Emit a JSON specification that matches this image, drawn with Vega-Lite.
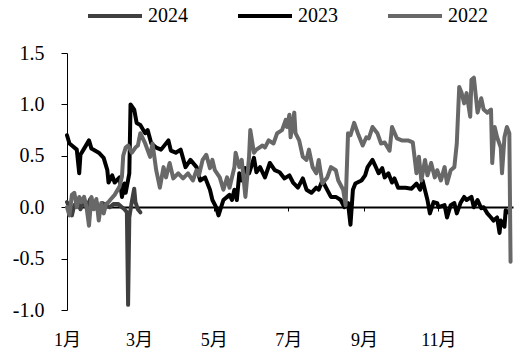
{
  "$schema": "https://vega.github.io/schema/vega-lite/v6.json",
  "width": 446,
  "height": 257,
  "autosize": {"type": "none"},
  "padding": {"left": 67, "top": 53, "right": 11, "bottom": 50},
  "background": "white",
  "config": {
    "view": {"stroke": null},
    "font": "Liberation Serif"
  },
  "datasets": {
    "s2024": [
      {"day":0,"value":0.05},{"day":2,"value":0.0},{"day":4,"value":-0.08},{"day":6,"value":0.02},{"day":9,"value":0.05},{"day":11,"value":-0.02},{"day":14,"value":0.06},{"day":16,"value":0.0},{"day":19,"value":0.08},{"day":21,"value":0.02},{"day":24,"value":0.05},{"day":26,"value":-0.03},{"day":29,"value":0.04},{"day":32,"value":0.02},{"day":35,"value":0.0},{"day":38,"value":0.03},{"day":42,"value":0.03},{"day":45,"value":0.0},{"day":47,"value":-0.02},{"day":49,"value":-0.05},{"day":50,"value":-0.95},{"day":51,"value":-0.1},{"day":53,"value":0.05},{"day":55,"value":0.18},{"day":56,"value":0.05},{"day":58,"value":-0.02},{"day":60,"value":-0.05}
    ],
    "s2023": [
      {"day":0,"value":0.70},{"day":2,"value":0.62},{"day":4,"value":0.60},{"day":8,"value":0.56},{"day":10,"value":0.33},{"day":11,"value":0.51},{"day":14,"value":0.57},{"day":18,"value":0.65},{"day":20,"value":0.57},{"day":26,"value":0.53},{"day":30,"value":0.48},{"day":33,"value":0.36},{"day":34,"value":0.24},{"day":37,"value":0.31},{"day":39,"value":0.24},{"day":43,"value":0.29},{"day":45,"value":0.10},{"day":47,"value":0.23},{"day":48,"value":0.14},{"day":51,"value":0.33},{"day":52,"value":1.0},{"day":55,"value":0.95},{"day":57,"value":0.82},{"day":60,"value":0.80},{"day":64,"value":0.72},{"day":66,"value":0.75},{"day":69,"value":0.62},{"day":73,"value":0.58},{"day":77,"value":0.56},{"day":83,"value":0.65},{"day":85,"value":0.55},{"day":89,"value":0.53},{"day":93,"value":0.56},{"day":97,"value":0.39},{"day":101,"value":0.46},{"day":106,"value":0.39},{"day":109,"value":0.26},{"day":113,"value":0.29},{"day":117,"value":0.17},{"day":119,"value":0.07},{"day":122,"value":0.0},{"day":124,"value":-0.08},{"day":128,"value":0.07},{"day":133,"value":0.12},{"day":135,"value":0.07},{"day":137,"value":0.17},{"day":139,"value":0.07},{"day":141,"value":0.33},{"day":143,"value":0.26},{"day":146,"value":0.38},{"day":149,"value":0.33},{"day":153,"value":0.48},{"day":155,"value":0.34},{"day":158,"value":0.39},{"day":162,"value":0.29},{"day":166,"value":0.43},{"day":170,"value":0.36},{"day":174,"value":0.34},{"day":178,"value":0.28},{"day":182,"value":0.31},{"day":185,"value":0.24},{"day":189,"value":0.19},{"day":193,"value":0.28},{"day":196,"value":0.17},{"day":200,"value":0.14},{"day":204,"value":0.19},{"day":206,"value":0.17},{"day":209,"value":0.26},{"day":212,"value":0.19},{"day":216,"value":0.10},{"day":220,"value":0.10},{"day":224,"value":0.07},{"day":227,"value":0.0},{"day":230,"value":0.04},{"day":232,"value":-0.17},{"day":234,"value":0.17},{"day":236,"value":0.23},{"day":241,"value":0.26},{"day":244,"value":0.31},{"day":246,"value":0.39},{"day":250,"value":0.46},{"day":252,"value":0.41},{"day":255,"value":0.33},{"day":258,"value":0.38},{"day":260,"value":0.29},{"day":263,"value":0.33},{"day":266,"value":0.24},{"day":268,"value":0.28},{"day":271,"value":0.19},{"day":277,"value":0.19},{"day":282,"value":0.18},{"day":286,"value":0.23},{"day":289,"value":0.17},{"day":291,"value":0.26},{"day":295,"value":0.07},{"day":297,"value":-0.06},{"day":300,"value":0.05},{"day":303,"value":0.04},{"day":304,"value":0.0},{"day":309,"value":0.02},{"day":311,"value":-0.1},{"day":314,"value":0.02},{"day":317,"value":0.04},{"day":319,"value":-0.06},{"day":322,"value":0.04},{"day":325,"value":0.10},{"day":327,"value":0.07},{"day":331,"value":0.10},{"day":333,"value":0.0},{"day":336,"value":0.07},{"day":339,"value":-0.01},{"day":341,"value":0.0},{"day":344,"value":-0.06},{"day":347,"value":-0.10},{"day":349,"value":-0.13},{"day":352,"value":-0.10},{"day":354,"value":-0.25},{"day":355,"value":-0.13},{"day":358,"value":-0.19},{"day":359,"value":-0.03},{"day":361,"value":-0.05}
    ],
    "s2022": [
      {"day":0,"value":0.0},{"day":2,"value":-0.08},{"day":4,"value":0.12},{"day":6,"value":0.14},{"day":8,"value":0.0},{"day":10,"value":0.1},{"day":12,"value":0.05},{"day":14,"value":0.1},{"day":16,"value":0.0},{"day":18,"value":-0.18},{"day":20,"value":0.1},{"day":22,"value":-0.02},{"day":24,"value":0.08},{"day":26,"value":-0.13},{"day":28,"value":0.04},{"day":30,"value":-0.06},{"day":32,"value":0.03},{"day":34,"value":0.05},{"day":36,"value":0.08},{"day":39,"value":0.12},{"day":43,"value":0.2},{"day":45,"value":0.3},{"day":46,"value":0.5},{"day":48,"value":0.58},{"day":50,"value":0.6},{"day":53,"value":0.53},{"day":56,"value":0.58},{"day":58,"value":0.6},{"day":60,"value":0.72},{"day":64,"value":0.62},{"day":68,"value":0.49},{"day":70,"value":0.62},{"day":73,"value":0.36},{"day":76,"value":0.19},{"day":79,"value":0.39},{"day":81,"value":0.29},{"day":84,"value":0.43},{"day":87,"value":0.28},{"day":91,"value":0.33},{"day":95,"value":0.28},{"day":99,"value":0.33},{"day":103,"value":0.26},{"day":106,"value":0.36},{"day":108,"value":0.31},{"day":111,"value":0.46},{"day":114,"value":0.51},{"day":117,"value":0.38},{"day":119,"value":0.46},{"day":121,"value":0.36},{"day":125,"value":0.29},{"day":128,"value":0.17},{"day":131,"value":0.29},{"day":133,"value":0.19},{"day":137,"value":0.39},{"day":138,"value":0.53},{"day":141,"value":0.39},{"day":143,"value":0.46},{"day":146,"value":0.1},{"day":149,"value":0.49},{"day":150,"value":0.75},{"day":153,"value":0.53},{"day":155,"value":0.56},{"day":160,"value":0.6},{"day":162,"value":0.58},{"day":165,"value":0.65},{"day":169,"value":0.62},{"day":172,"value":0.72},{"day":176,"value":0.75},{"day":179,"value":0.85},{"day":180,"value":0.78},{"day":182,"value":0.9},{"day":183,"value":0.68},{"day":186,"value":0.92},{"day":187,"value":0.72},{"day":190,"value":0.65},{"day":193,"value":0.49},{"day":196,"value":0.46},{"day":198,"value":0.56},{"day":201,"value":0.39},{"day":204,"value":0.33},{"day":206,"value":0.46},{"day":209,"value":0.23},{"day":213,"value":0.29},{"day":216,"value":0.39},{"day":220,"value":0.36},{"day":222,"value":0.26},{"day":226,"value":0.17},{"day":228,"value":0.02},{"day":230,"value":0.72},{"day":232,"value":0.70},{"day":235,"value":0.82},{"day":238,"value":0.72},{"day":242,"value":0.6},{"day":245,"value":0.68},{"day":247,"value":0.67},{"day":250,"value":0.78},{"day":254,"value":0.72},{"day":257,"value":0.62},{"day":260,"value":0.63},{"day":264,"value":0.55},{"day":266,"value":0.78},{"day":270,"value":0.67},{"day":274,"value":0.65},{"day":279,"value":0.65},{"day":283,"value":0.63},{"day":286,"value":0.33},{"day":288,"value":0.49},{"day":290,"value":0.26},{"day":293,"value":0.46},{"day":295,"value":0.31},{"day":298,"value":0.43},{"day":301,"value":0.29},{"day":303,"value":0.36},{"day":306,"value":0.26},{"day":309,"value":0.39},{"day":311,"value":0.23},{"day":314,"value":0.36},{"day":317,"value":0.39},{"day":319,"value":0.62},{"day":321,"value":1.17},{"day":323,"value":1.11},{"day":325,"value":1.01},{"day":327,"value":1.11},{"day":330,"value":0.88},{"day":331,"value":1.24},{"day":333,"value":1.26},{"day":336,"value":0.92},{"day":339,"value":1.06},{"day":341,"value":0.95},{"day":344,"value":0.92},{"day":347,"value":0.95},{"day":348,"value":0.43},{"day":350,"value":0.78},{"day":352,"value":0.68},{"day":355,"value":0.58},{"day":356,"value":0.33},{"day":358,"value":0.68},{"day":360,"value":0.78},{"day":362,"value":0.72},{"day":363,"value":-0.53}
    ]
  },
  "data": {"name": "s2024"},
  "layer": [
    {
      "data": {"name": "s2024"},
      "transform": [{"calculate": "'2024'", "as": "series"}],
      "mark": {"type": "line", "strokeWidth": 4, "strokeJoin": "round", "strokeCap": "round"},
      "encoding": {
        "x": {"field": "day", "type": "quantitative"},
        "y": {"field": "value", "type": "quantitative"},
        "color": {"field": "series", "type": "nominal"}
      }
    },
    {
      "data": {"name": "s2023"},
      "transform": [{"calculate": "'2023'", "as": "series"}],
      "mark": {"type": "line", "strokeWidth": 4, "strokeJoin": "round", "strokeCap": "round"},
      "encoding": {
        "x": {"field": "day", "type": "quantitative"},
        "y": {"field": "value", "type": "quantitative"},
        "color": {"field": "series", "type": "nominal"}
      }
    },
    {
      "data": {"name": "s2022"},
      "transform": [{"calculate": "'2022'", "as": "series"}],
      "mark": {"type": "line", "strokeWidth": 4, "strokeJoin": "round", "strokeCap": "round"},
      "encoding": {
        "x": {
          "field": "day", "type": "quantitative",
          "scale": {"domain": [0, 365], "nice": false, "zero": false},
          "axis": {
            "title": null,
            "values": [0, 59, 120, 181, 243, 304],
            "labelExpr": "[1,3,5,7,9,11][indexof([0,59,120,181,243,304], datum.value)] + '月'",
            "offset": -103,
            "grid": false,
            "domainColor": "black",
            "domainWidth": 2,
            "tickColor": "black",
            "tickSize": 4,
            "tickWidth": 1,
            "labelFlush": false,
            "labelPadding": 120,
            "labelFont": "Liberation Serif, Noto Sans CJK SC",
            "labelFontSize": 18,
            "labelColor": "black"
          }
        },
        "y": {
          "field": "value", "type": "quantitative",
          "scale": {"domain": [-1, 1.5], "nice": false, "zero": false},
          "axis": {
            "title": null,
            "values": [-1, -0.5, 0, 0.5, 1, 1.5],
            "labelExpr": "replace(format(datum.value, '.1f'), '−', '-')",
            "grid": false,
            "domainColor": "black",
            "domainWidth": 1,
            "tickColor": "black",
            "tickSize": 6,
            "labelPadding": 17,
            "labelFont": "Liberation Serif",
            "labelFontSize": 20,
            "labelColor": "black"
          }
        },
        "color": {
          "field": "series", "type": "nominal",
          "scale": {"domain": ["2024", "2023", "2022"], "range": ["#404040", "#000000", "#686868"]},
          "legend": {
            "title": null,
            "orient": "none",
            "direction": "horizontal",
            "legendX": 19,
            "legendY": -66,
            "symbolType": "stroke",
            "symbolSize": 2916,
            "symbolStrokeWidth": 4,
            "labelFont": "Liberation Serif",
            "labelFontSize": 20,
            "labelColor": "black",
            "labelOffset": 4,
            "columnPadding": 42
          }
        }
      }
    }
  ]
}
